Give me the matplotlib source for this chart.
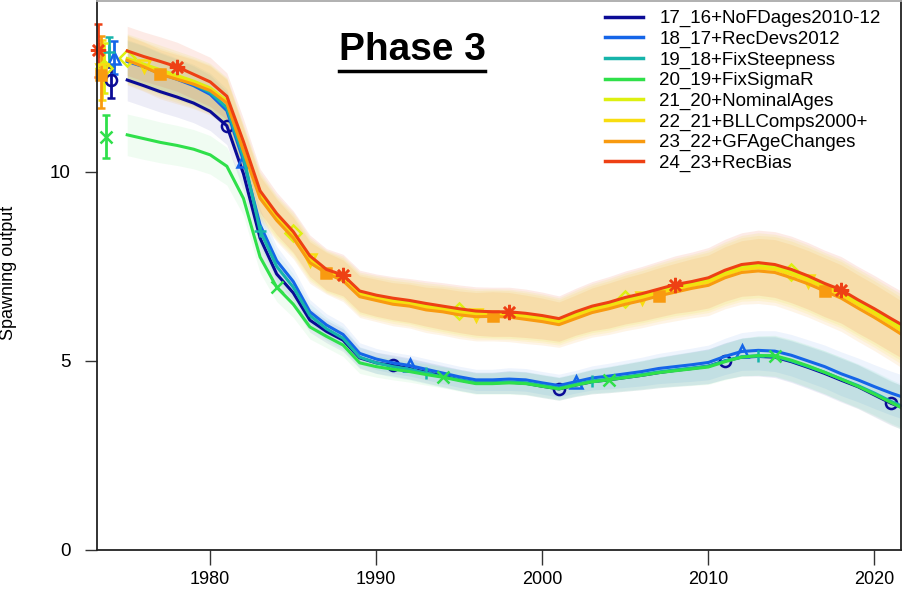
import matplotlib
matplotlib.use('Agg')
import matplotlib.pyplot as plt
from matplotlib.lines import Line2D

years = list(range(1975, 2023))

labels = ['17_16+NoFDages2010-12', '18_17+RecDevs2012', '19_18+FixSteepness',
          '20_19+FixSigmaR', '21_20+NominalAges', '22_21+BLLComps2000+',
          '23_22+GFAgeChanges', '24_23+RecBias']
colors = ['#0B0B96', '#1565E8', '#16B4AA', '#2FE04A',
          '#DDF010', '#F8DD10', '#F89A10', '#EE4014']
markers = ['o', '^', '+', 'x', 'D', 'v', 's', (8, 2, 0)]
filled = [False, False, True, True, False, False, True, True]
msizes = [8, 9, 9, 9, 8, 8, 7, 11]
mark_start = [6, 7, 8, 9, 0, 1, 2, 3]   # first marked year index, then every 10 yrs

so_17 = [12.43, 12.28, 12.12, 11.98, 11.82, 11.60, 11.22, 9.95, 8.25, 7.30,
         6.80, 6.08, 5.78, 5.55, 5.08, 4.95, 4.88, 4.80, 4.70, 4.60,
         4.50, 4.42, 4.42, 4.44, 4.41, 4.33, 4.26, 4.36, 4.45, 4.50,
         4.56, 4.62, 4.69, 4.75, 4.80, 4.86, 5.00, 5.10, 5.12, 5.10,
         4.98, 4.83, 4.67, 4.49, 4.32, 4.10, 3.88, 3.72]
so_18 = [12.92, 12.78, 12.60, 12.45, 12.28, 12.05, 11.62, 10.30, 8.60, 7.65,
         7.10, 6.30, 5.95, 5.70, 5.20, 5.05, 4.95, 4.88, 4.78, 4.68,
         4.58, 4.50, 4.50, 4.52, 4.50, 4.42, 4.35, 4.45, 4.55, 4.60,
         4.66, 4.72, 4.80, 4.85, 4.90, 4.96, 5.12, 5.25, 5.28, 5.26,
         5.15, 5.00, 4.85, 4.66, 4.50, 4.32, 4.15, 4.00]
so_19 = [12.95, 12.80, 12.63, 12.48, 12.32, 12.10, 11.70, 10.40, 8.45, 7.50,
         6.95, 6.20, 5.85, 5.60, 5.10, 4.95, 4.85, 4.78, 4.68, 4.58,
         4.50, 4.42, 4.42, 4.44, 4.42, 4.35, 4.28, 4.38, 4.47, 4.52,
         4.58, 4.64, 4.71, 4.76, 4.81, 4.86, 5.00, 5.11, 5.14, 5.12,
         5.00, 4.85, 4.70, 4.52, 4.35, 4.15, 3.93, 3.74]
so_20 = [10.98, 10.88, 10.78, 10.70, 10.60, 10.45, 10.15, 9.30, 7.75, 6.95,
         6.50, 5.90, 5.65, 5.42, 4.95, 4.85, 4.78, 4.72, 4.64, 4.57,
         4.48, 4.40, 4.40, 4.42, 4.40, 4.33, 4.26, 4.36, 4.45, 4.50,
         4.56, 4.62, 4.69, 4.74, 4.79, 4.84, 4.98, 5.10, 5.14, 5.14,
         5.02, 4.87, 4.70, 4.52, 4.33, 4.12, 3.90, 3.68]
so_21 = [13.00, 12.85, 12.70, 12.55, 12.40, 12.22, 11.88, 10.65, 9.42, 8.82,
         8.38, 7.72, 7.38, 7.22, 6.80, 6.70, 6.62, 6.56, 6.47, 6.40,
         6.33, 6.27, 6.26, 6.25, 6.21, 6.15, 6.07, 6.25, 6.40, 6.50,
         6.63, 6.73, 6.85, 6.96, 7.04, 7.14, 7.33, 7.48, 7.53, 7.48,
         7.36, 7.19, 6.99, 6.81, 6.56, 6.31, 6.05, 5.79]
so_22 = [12.97, 12.80, 12.63, 12.49, 12.35, 12.18, 11.85, 10.60, 9.36, 8.77,
         8.31, 7.66, 7.35, 7.17, 6.75, 6.65, 6.56, 6.50, 6.41, 6.35,
         6.28, 6.22, 6.22, 6.21, 6.16, 6.10, 6.02, 6.19, 6.34, 6.44,
         6.57, 6.67, 6.79, 6.90, 6.99, 7.08, 7.27, 7.42, 7.46, 7.42,
         7.29, 7.12, 6.93, 6.75, 6.49, 6.24, 5.97, 5.70]
so_23 = [12.95, 12.78, 12.58, 12.45, 12.32, 12.15, 11.82, 10.55, 9.30, 8.72,
         8.25, 7.60, 7.32, 7.12, 6.70, 6.60, 6.50, 6.45, 6.35, 6.30,
         6.22, 6.17, 6.18, 6.16, 6.10, 6.04, 5.96, 6.12, 6.28, 6.38,
         6.50, 6.60, 6.72, 6.82, 6.92, 7.00, 7.20, 7.34, 7.38, 7.34,
         7.20, 7.04, 6.85, 6.66, 6.40, 6.15, 5.88, 5.60]
so_24 = [13.20, 13.05, 12.92, 12.78, 12.58, 12.38, 12.00, 10.80, 9.50, 8.90,
         8.42, 7.78, 7.42, 7.27, 6.85, 6.74, 6.66, 6.60, 6.52, 6.45,
         6.38, 6.32, 6.30, 6.30, 6.26, 6.20, 6.12, 6.30, 6.45, 6.55,
         6.68, 6.78, 6.90, 7.02, 7.10, 7.20, 7.40, 7.55, 7.60, 7.55,
         7.42, 7.25, 7.05, 6.88, 6.62, 6.38, 6.12, 5.87]
series = [so_17, so_18, so_19, so_20, so_21, so_22, so_23, so_24]

# half width of the 95% interval, lower models (17-20) and upper models (21-24)
ci_low = [0.55, 0.55, 0.54, 0.53, 0.52, 0.51, 0.50, 0.45, 0.42, 0.38,
          0.35, 0.32, 0.30, 0.30, 0.28, 0.28, 0.28, 0.28, 0.28, 0.28,
          0.28, 0.28, 0.28, 0.30, 0.30, 0.30, 0.30, 0.30, 0.32, 0.34,
          0.36, 0.38, 0.40, 0.42, 0.44, 0.46, 0.48, 0.50, 0.52, 0.54,
          0.55, 0.56, 0.57, 0.58, 0.58, 0.58, 0.58, 0.58]
ci_up = [0.65, 0.65, 0.65, 0.65, 0.65, 0.65, 0.62, 0.60, 0.58, 0.56,
         0.55, 0.55, 0.55, 0.55, 0.55, 0.56, 0.57, 0.58, 0.60, 0.62,
         0.63, 0.64, 0.65, 0.65, 0.64, 0.62, 0.60, 0.62, 0.65, 0.68,
         0.70, 0.72, 0.74, 0.76, 0.78, 0.80, 0.82, 0.84, 0.86, 0.87,
         0.88, 0.88, 0.88, 0.88, 0.88, 0.88, 0.88, 0.88]
ci = [ci_low] * 4 + [ci_up] * 4
band_alpha = [0.07, 0.07, 0.07, 0.07, 0.1, 0.1, 0.1, 0.1]

# unfished spawning output with interval, plotted left of the series
sb0_x = [1974.05, 1974.2, 1973.9, 1973.7, 1973.6, 1973.5, 1973.4, 1973.25]
sb0 = [12.43, 13.0, 13.17, 10.93, 12.75, 12.7, 12.57, 13.23]
sb0_lo = [11.96, 12.6, 12.83, 10.37, 12.1, 11.9, 11.7, 12.5]
sb0_hi = [12.78, 13.45, 13.57, 11.5, 13.4, 13.5, 13.6, 13.9]

plt.rcParams['font.family'] = ['Liberation Sans', 'DejaVu Sans']

fig = plt.figure(figsize=(9.05, 5.9), dpi=100)
ax = fig.add_axes([97 / 905, 40 / 590, 804 / 905, 549 / 590])

# bands first
for i in range(8):
    lo = [v - c for v, c in zip(series[i], ci[i])]
    hi = [v + c for v, c in zip(series[i], ci[i])]
    ax.fill_between(years, lo, hi, color=colors[i], alpha=band_alpha[i], lw=0)

for i in range(8):
    mfc = colors[i] if filled[i] else 'none'
    ax.plot(years, series[i], color=colors[i], lw=2.2,
            marker=markers[i], markevery=slice(mark_start[i], None, 10),
            ms=msizes[i], mew=1.8, mfc=mfc, mec=colors[i], label=labels[i])
    ax.errorbar([sb0_x[i]], [sb0[i]],
                yerr=[[sb0[i] - sb0_lo[i]], [sb0_hi[i] - sb0[i]]],
                color=colors[i], lw=2, capsize=3, capthick=1.5,
                marker=markers[i], ms=msizes[i], mew=1.8, mfc=mfc, mec=colors[i],
                clip_on=False)

ax.set_xlim(1973.18, 2021.6)
ax.set_ylim(0, 14.52)
ax.set_xticks([1980, 1990, 2000, 2010, 2020])
ax.set_yticks([0, 5, 10])
ax.tick_params(axis='x', length=11, width=1, pad=4, labelsize=13, color='#333333')
ax.tick_params(axis='y', length=9, width=1, pad=10, labelsize=13.5, color='#333333')
for s in ax.spines.values():
    s.set_linewidth(1.3)
    s.set_color('#222222')
ax.spines['top'].set_color('#aaaaaa')

ax.set_ylabel('Spawning output', fontsize=13)
ax.yaxis.set_label_coords(-0.1, 0.505)

leg = ax.legend(loc='upper left', bbox_to_anchor=(605 / 905, 1 - 10 / 590),
                bbox_transform=fig.transFigure, frameon=False, fontsize=13.5,
                handlelength=2.0, handletextpad=0.9, labelspacing=0.18,
                borderpad=0, borderaxespad=0)
for h in leg.legend_handles:
    h.set_marker('')
    h.set_linewidth(2.5)

title = fig.text(412 / 905, 1 - 50 / 590, 'Phase 3', ha='center', va='center',
                 fontsize=28, fontweight='bold')
fig.canvas.draw()
bb = title.get_window_extent()
fig.add_artist(Line2D([bb.x0 / 905, bb.x1 / 905], [1 - 71 / 590, 1 - 71 / 590],
                      color='black', lw=2.5, transform=fig.transFigure))

fig.savefig('out.png', dpi=100)
